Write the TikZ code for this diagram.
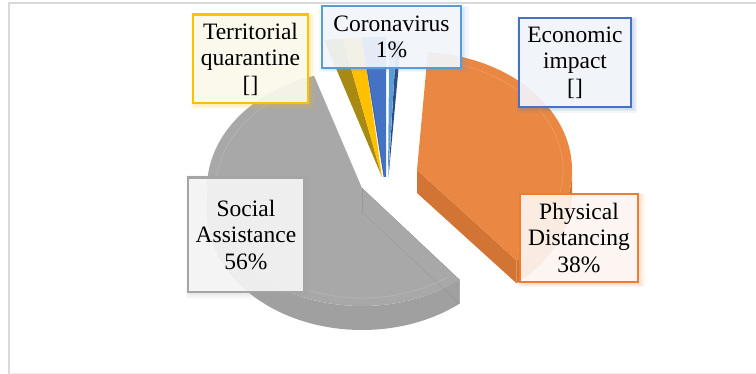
\documentclass[tikz,border=0pt]{standalone}
\usepackage{fontspec}
\setmainfont{Liberation Serif}
\newfontfamily\lblfont{Liberation Serif}
\usetikzlibrary{shadows}
\definecolor{cGold}{HTML}{FFC000}
\definecolor{cLBlue}{HTML}{5B9BD5}
\definecolor{cBlue}{HTML}{4472C4}
\definecolor{cGray}{HTML}{A5A5A5}
\definecolor{cOrange}{HTML}{ED7D31}
\definecolor{grayTop}{HTML}{A8A8A8}
\definecolor{graySide}{HTML}{A0A0A0}
\definecolor{orangeTop}{HTML}{EA8843}
\definecolor{orangeSide}{HTML}{D27434}
\definecolor{oliveSide}{HTML}{A88A12}
\definecolor{navy}{HTML}{2A4C86}
\definecolor{frameGray}{HTML}{D9D9D9}
\definecolor{fGold}{HTML}{FBF9F2}
\definecolor{fLBlue}{HTML}{F5F8FC}
\definecolor{fBlue}{HTML}{F5F7FA}
\definecolor{fGray}{HTML}{F6F6F6}
\definecolor{fOrange}{HTML}{FDF8F5}
\tikzset{
  glowlayer/.style={general shadow={draw=none,fill=#1,opacity=0.07,shadow xshift=2pt,shadow yshift=-2pt,shadow scale=1.08}},
  glowlayerb/.style={general shadow={draw=none,fill=#1,opacity=0.08,shadow xshift=2pt,shadow yshift=-2pt,shadow scale=1.05}},
  glowlayerc/.style={general shadow={draw=none,fill=#1,opacity=0.10,shadow xshift=2pt,shadow yshift=-2pt,shadow scale=1.02}},
  lbl/.style 2 args={glowlayer=#1,glowlayerb=#1,glowlayerc=#1,
    draw=#1, line width=2.4pt, fill=#2, fill opacity=0.9, text opacity=1,
    align=center, inner sep=0pt, font=\lblfont\fontsize{23.5}{26.5}\selectfont},
  bevel/.style={draw=white, line width=0.8pt, opacity=0.12},
  edgeline/.style={draw=black, line width=0.4pt, opacity=0.08}
}
\begin{document}
\begin{tikzpicture}[x=1pt,y=-1pt]
\useasboundingbox (0,0) rectangle (756,374);
% frame
\draw[frameGray, line width=2pt] (8.5,374) -- (8.5,3.2) -- (756,3.2);
\draw[frameGray!50, line width=0.8pt] (8.5,373.5) -- (756,373.5);

% ---- Social Assistance (gray) ----
\fill[graySide] (207,188) arc[start angle=180,end angle=51,x radius=155,y radius=118]
   -- ++(0,24) arc[start angle=51,end angle=180,x radius=155,y radius=118] -- cycle;
\fill[graySide] (362,188) -- (459.55,279.70) -- (459.55,303.70) -- (362,212) -- cycle;
\fill[grayTop] (362,188) -- ++({155*cos(-108)},{118*sin(-108)})
   arc[start angle=-108,end angle=-309,x radius=155,y radius=118] -- cycle;
\draw[bevel] (362,188) ++({146*cos(-110)},{110*sin(-110)})
   arc[start angle=-110,end angle=-306,x radius=146,y radius=110];
\draw[edgeline] (362,188) -- (459.55,279.70);
\draw[edgeline] (362,188) -- (362,212);
\draw[edgeline] (362,212) -- (459.55,303.70);
\draw[bevel] (362,188) -- (314.1,75.8);

% ---- Physical Distancing (orange) ----
\fill[orangeSide] (572,170) arc[start angle=0,end angle=50,x radius=155,y radius=118]
   -- ++(0,23) arc[start angle=50,end angle=0,x radius=155,y radius=118] -- cycle;
\fill[orangeSide] (417,170) -- (516.63,260.39) -- (516.63,283.39) -- (417,193) -- cycle;
\fill[orangeTop] (417,170) -- ++({155*cos(-86)},{118*sin(-86)})
   arc[start angle=-86,end angle=50,x radius=155,y radius=118] -- cycle;
\draw[bevel] (417,170) ++({146*cos(-84)},{110*sin(-84)})
   arc[start angle=-84,end angle=47,x radius=146,y radius=110];

% ---- thin slices ----
\fill[oliveSide] (382,177) -- (324,40) -- (342.5,38.5) -- cycle;
\fill[cGold] (382,177) -- (342.5,38.5) -- (362,37.5) -- cycle;
\fill[cBlue] (384,177) -- (362,37.5) -- (386,36.5) -- (386,177) -- cycle;
\draw[navy, line width=0.8pt, opacity=0.7] (384,177) -- (362,37.5);
\fill[cLBlue] (388,177) -- (389.3,40) -- (396.5,40.5) -- cycle;
\fill[navy] (388.5,177) -- (396.5,40.5) -- (401,41.5) -- cycle;

% ---- labels ----
\node[lbl={cGold}{fGold}, minimum width=114.6pt, minimum height=88.6pt] (tq) at (250.5,59) {Territorial\\quarantine\\{[]}};
\node[lbl={cLBlue}{fLBlue}, minimum width=138.6pt, minimum height=61.6pt] (cv) at (391.5,37) {Coronavirus\\1\%};
\node[lbl={cBlue}{fBlue}, minimum width=111.6pt, minimum height=88.6pt] (ei) at (575,62.5) {Economic\\impact\\{[]}};
\node[lbl={cGray}{fGray}, minimum width=115.6pt, minimum height=114.6pt] (sa) at (246,235) {Social\\Assistance\\56\%};
\node[lbl={cOrange}{fOrange}, minimum width=117.6pt, minimum height=87.6pt] (pd) at (579,238) {Physical\\Distancing\\38\%};
\end{tikzpicture}
\end{document}
